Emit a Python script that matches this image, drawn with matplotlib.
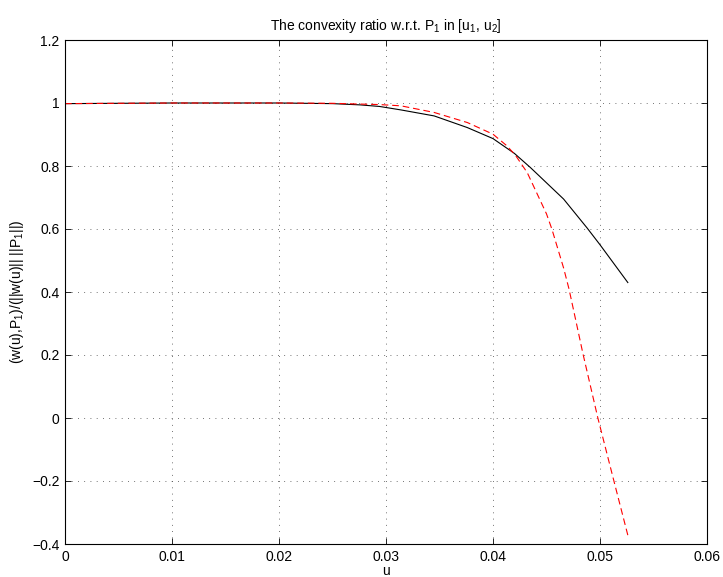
import matplotlib
matplotlib.use("Agg")
import matplotlib.pyplot as plt

plt.rcParams['font.family'] = ['Liberation Sans', 'DejaVu Sans']
plt.rcParams['mathtext.fontset'] = 'custom'
plt.rcParams['mathtext.rm'] = 'Liberation Sans'
plt.rcParams['mathtext.it'] = 'Liberation Sans'
plt.rcParams['font.size'] = 10

u_black = [0.0, 0.005, 0.01, 0.015, 0.02, 0.025, 0.0276, 0.0294, 0.0314, 0.0345,
           0.0376, 0.04, 0.042, 0.0435, 0.0466, 0.0488, 0.05, 0.0513, 0.0526]
y_black = [0.998, 0.999, 1.0, 1.0, 1.0, 0.998, 0.994, 0.989, 0.978, 0.959,
           0.922, 0.887, 0.84, 0.795, 0.695, 0.603, 0.55, 0.49, 0.43]

u_red = [0.0, 0.005, 0.01, 0.015, 0.02, 0.025, 0.0294, 0.0314, 0.0345, 0.0376, 0.04,
         0.0413, 0.0421, 0.0432, 0.045, 0.0455, 0.0466, 0.0471, 0.0478, 0.0484,
         0.0498, 0.0513, 0.0526]
y_red = [0.998, 0.999, 1.0, 1.0, 1.0, 0.999, 0.995, 0.991, 0.970, 0.938, 0.901,
         0.864, 0.834, 0.779, 0.648, 0.600, 0.476, 0.41, 0.30, 0.205,
         0.0, -0.200, -0.372]

x_ticks = [0, 0.01, 0.02, 0.03, 0.04, 0.05, 0.06]
y_ticks = [-0.4, -0.2, 0, 0.2, 0.4, 0.6, 0.8, 1.0, 1.2]
x_labels = ['0', '0.01', '0.02', '0.03', '0.04', '0.05', '0.06']
y_labels = ['\u22120.4', '\u22120.2', '0', '0.2', '0.4', '0.6', '0.8', '1', '1.2']

fig = plt.figure(figsize=(7.23, 5.77), dpi=100)
ax = fig.add_axes([65/723, 1-544/577, (707-65)/723, (544-40)/577])

ax.plot(u_black, y_black, color='black', lw=0.8)
ax.plot(u_red, y_red, color='red', lw=0.8, linestyle=(0, (6, 3.5)))

ax.set_xlim(0, 0.06)
ax.set_ylim(-0.4, 1.2)
ax.set_xticks(x_ticks)
ax.set_xticklabels(x_labels)
ax.set_yticks(y_ticks)
ax.set_yticklabels(y_labels)
ax.tick_params(direction='in', top=True, right=True, length=4, width=0.6, pad=4)
ax.grid(True, color='#444444', linestyle=(0, (1, 6.5)), linewidth=0.6)
for s in ax.spines.values():
    s.set_linewidth(0.8)

ax.set_title(r'The convexity ratio w.r.t. P$_1$ in [u$_1$, u$_2$]', fontsize=10, pad=7)
ax.set_ylabel(r'(w(u),P$_1$)/(||w(u)|| ||P$_1$||)', fontsize=10, labelpad=4)
ax.set_xlabel('u', fontsize=10, labelpad=0)

fig.savefig('out.png', dpi=100)
